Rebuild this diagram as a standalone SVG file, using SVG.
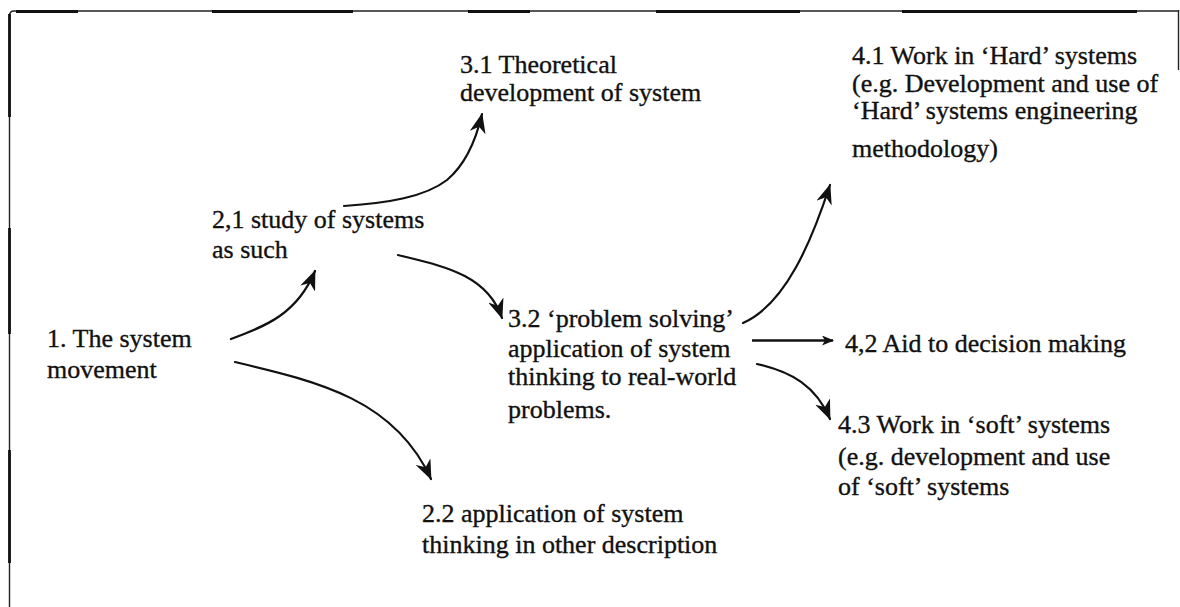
<svg xmlns="http://www.w3.org/2000/svg" width="1180" height="607" viewBox="0 0 1180 607">
  <style>
    text { font-family: "Liberation Serif", "Times New Roman", serif; font-size: 26px; fill: #111; stroke: #111; stroke-width: 0.35; }
    .frame { stroke: #222; fill: none; stroke-width: 1.4; }
    .frame-bold { stroke: #111; fill: none; stroke-width: 2.8; }
    .link { stroke: #111; fill: none; stroke-width: 2.2; stroke-linecap: round; marker-end: url(#head); }
    .link-straight { stroke: #111; fill: none; stroke-width: 2.6; marker-end: url(#head-small); }
  </style>
  <defs>
    <marker id="head" viewBox="0 0 20 16" refX="19" refY="8" markerWidth="20" markerHeight="16" markerUnits="userSpaceOnUse" orient="auto">
      <path d="M0,0 L20,8 L0,16 L6,8 z" fill="#111"/>
    </marker>
    <marker id="head-small" viewBox="0 0 12 10" refX="11" refY="5" markerWidth="12" markerHeight="10" markerUnits="userSpaceOnUse" orient="auto">
      <path d="M0,0 L12,5 L0,10 L3,5 z" fill="#111"/>
    </marker>
  </defs>

  <rect width="1180" height="607" fill="#fff"/>

  <!-- outer frame -->
  <g id="frame">
    <path class="frame" d="M9.5,607 V16 Q9.5,11 14,11 H1179"/>
    <path class="frame" d="M1178.5,10 V70"/>
    <path class="frame-bold" d="M16,11.5 H78 M212,11.5 H353 M468,11.5 H530 M656,11.5 H800 M902,11.5 H1137"/>
    <path class="frame-bold" d="M9.5,14 V117 M9.5,228 V334 M9.5,450 V563"/>
  </g>

  <!-- connectors -->
  <g id="connectors">
    <path class="link" d="M231,339 C266,326 297,314 315,271"/>
    <path class="link" d="M235,362 C320,382 395,400 431,479"/>
    <path class="link" d="M344,206 C388,203 425,197 447,180 C466,164 476,140 482,114"/>
    <path class="link" d="M398,255 C442,266 487,274 502,318"/>
    <path class="link" d="M743,323 C786,304 812,240 830,185"/>
    <path class="link-straight" d="M752,340.5 H833"/>
    <path class="link" d="M757,364 C792,372 816,386 830,419"/>
  </g>

  <!-- nodes -->
  <g id="node-1">
    <text x="47" y="347">1. The system</text>
    <text x="47" y="378">movement</text>
  </g>
  <g id="node-2-1">
    <text x="212" y="228">2,1 study of systems</text>
    <text x="212" y="258">as such</text>
  </g>
  <g id="node-2-2">
    <text x="422" y="522">2.2 application of system</text>
    <text x="422" y="553">thinking in other description</text>
  </g>
  <g id="node-3-1">
    <text x="460" y="73">3.1 Theoretical</text>
    <text x="460" y="101">development of system</text>
  </g>
  <g id="node-3-2">
    <text x="508" y="327">3.2 ‘problem solving’</text>
    <text x="508" y="357">application of system</text>
    <text x="508" y="385">thinking to real-world</text>
    <text x="508" y="418">problems.</text>
  </g>
  <g id="node-4-1">
    <text x="852" y="64">4.1 Work in ‘Hard’ systems</text>
    <text x="852" y="92">(e.g. Development and use of</text>
    <text x="852" y="119">‘Hard’ systems engineering</text>
    <text x="852" y="157">methodology)</text>
  </g>
  <g id="node-4-2">
    <text x="845" y="352">4,2 Aid to decision making</text>
  </g>
  <g id="node-4-3">
    <text x="838" y="433">4.3 Work in ‘soft’ systems</text>
    <text x="838" y="465">(e.g. development and use</text>
    <text x="838" y="495">of ‘soft’ systems</text>
  </g>
</svg>
